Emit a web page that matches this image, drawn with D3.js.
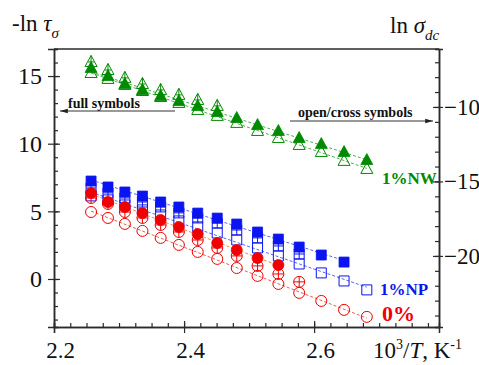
<!DOCTYPE html>
<html>
<head>
<meta charset="utf-8">
<script src="https://cdn.jsdelivr.net/npm/d3@7"></script>
<style>
  body { margin: 0; background: #fff; }
  svg, svg text { font-family: "Liberation Serif", "Times New Roman", "DejaVu Serif", serif; }
</style>
</head>
<body>
<div id="chart"></div>
<script>
// 10^3/T for T = 443 ... 373 K
var invT = [2.257, 2.283, 2.309, 2.336, 2.364, 2.392, 2.421, 2.451, 2.481, 2.513, 2.545, 2.577, 2.611, 2.646, 2.681];

// full symbols -> left axis (-ln tau)
var nwFull   = [15.59, 15.0, 14.41, 13.97, 13.52, 13.15, 12.78, 12.34, 11.9, 11.38, 10.94, 10.42, 9.97, 9.38, 8.79];
var npFull   = [7.24, 6.8, 6.43, 6.13, 5.69, 5.32, 4.87, 4.5, 4.06, 3.47, 2.95, 2.36, 1.77, 1.25];
var pureFull = [6.35, 5.69, 5.32, 4.87, 4.36, 3.84, 3.32, 2.66, 2.14, 1.55, 1.03];

// open / cross symbols -> right axis (ln sigma_dc)
var nwOpen    = [-7.72, -8.12, -8.52, -8.93, -9.33, -9.73, -10.2, -10.6, -11.07, -11.61, -12.08, -12.55, -13.02, -13.62, -14.16];
var nwCross   = [-6.98, -7.52, -8.05, -8.46, -8.86, -9.19, -9.53, -9.93];
var npOpen    = [-15.97, -16.24, -16.58, -16.91, -17.25, -17.65, -18.05, -18.46, -18.93, -19.46, -20.0, -20.54, -21.14, -21.68, -22.28];
var npCross   = [-15.44, -15.77, -16.11, -16.38, -16.71, -17.11, -17.45, -17.79, -18.26, -18.79, -19.33, -19.87];
var pureOpen  = [-17.05, -17.45, -17.85, -18.32, -18.79, -19.26, -19.73, -20.2, -20.81, -21.34, -21.88, -22.48, -23.02, -23.62, -24.09];
var pureCross = [-16.11, -16.51, -17.05, -17.45, -17.92, -18.39, -18.93, -19.46, -20.0, -20.67, -21.21, -21.74];

var leftTicks = [0, 5, 10, 15],
    rightTicks = [-20, -15, -10],
    xTicks = [2.2, 2.4, 2.6];

var W = 479, H = 365;
var box = {left: 54, top: 49, right: 439, bottom: 327};
var serif = "Liberation Serif, Times New Roman, serif";

var svg = d3.select("#chart").append("svg")
  .attr("width", W)
  .attr("height", H)
  .attr("font-family", serif);

var x = d3.scaleLinear().domain([2.2, 2.792]).range([box.left, box.right]);
var yL = d3.scaleLinear().domain([-3.55, 17.0]).range([box.bottom, box.top]);
var yR = d3.scaleLinear().domain([-24.77, -6.11]).range([box.bottom, box.top]);

function pts(vals){
  return vals.map(function(v, i){ return {x: invT[i], y: v}; });
}

// least squares line through a series
function fitLine(data, y, color){
  var n = data.length,
      mx = d3.mean(data, function(d){ return d.x; }),
      my = d3.mean(data, function(d){ return d.y; });
  var sxy = d3.sum(data, function(d){ return (d.x - mx) * (d.y - my); }),
      sxx = d3.sum(data, function(d){ return (d.x - mx) * (d.x - mx); });
  var b = sxy / sxx, a = my - b * mx;
  var x0 = data[0].x, x1 = data[n - 1].x;
  svg.append("line")
    .attr("x1", x(x0)).attr("y1", y(a + b * x0))
    .attr("x2", x(x1)).attr("y2", y(a + b * x1))
    .style("stroke", color)
    .style("stroke-width", 1)
    .style("stroke-dasharray", "3,2");
}

function markerPath(shape, cross){
  var p = d3.path();
  if(shape == "tri"){
    p.moveTo(0, -6.5); p.lineTo(6, 4.5); p.lineTo(-6, 4.5); p.closePath();
    if(cross){ p.moveTo(0, -6.5); p.lineTo(0, 4.5); p.moveTo(-3, 0); p.lineTo(3, 0); }
  } else if(shape == "sq"){
    p.rect(-5, -5, 10, 10);
    if(cross){ p.moveTo(0, -5); p.lineTo(0, 5); p.moveTo(-5, 0); p.lineTo(5, 0); }
  } else {
    p.moveTo(5.5, 0); p.arc(0, 0, 5.5, 0, 2 * Math.PI);
    if(cross){ p.moveTo(0, -5.5); p.lineTo(0, 5.5); p.moveTo(-5.5, 0); p.lineTo(5.5, 0); }
  }
  return p.toString();
}

function markers(data, y, shape, kind, color){
  svg.append("g").selectAll("path")
    .data(data)
    .enter().append("path")
    .attr("transform", function(d){ return "translate(" + x(d.x) + "," + y(d.y) + ")"; })
    .attr("d", markerPath(shape, kind == "cross"))
    .style("fill", kind == "full" ? color : "none")
    .style("stroke", color)
    .style("stroke-width", kind == "full" ? 0.8 : 1);
}

var series = [
  {full: nwFull,   open: nwOpen,   cross: nwCross,   shape: "tri", color: "#008a00", lineFull: "#4fae4f", lineOpen: "#4fae4f"},
  {full: npFull,   open: npOpen,   cross: npCross,   shape: "sq",  color: "#0a14f0", lineFull: "#5a64f0", lineOpen: "#5a64f0"},
  {full: pureFull, open: pureOpen, cross: pureCross, shape: "cir", color: "#f00000", lineFull: "#f08a50", lineOpen: "#ee5a5a"}
];

// dashed fit lines
series.forEach(function(s){
  fitLine(pts(s.open), yR, s.lineOpen);
  fitLine(pts(s.full), yL, s.lineFull);
});

// symbols: open, cross, then full on top
series.forEach(function(s){
  markers(pts(s.open), yR, s.shape, "open", s.color);
  markers(pts(s.cross), yR, s.shape, "cross", s.color);
});
series.forEach(function(s){
  markers(pts(s.full), yL, s.shape, "full", s.color);
});

// frame
var axisColor = "#2a2a2a";
svg.append("line")
  .attr("x1", box.left).attr("x2", box.right)
  .attr("y1", box.top).attr("y2", box.top)
  .style("stroke", axisColor).style("stroke-width", 1.5);

function styleAxis(g, size){
  g.attr("font-family", serif).attr("font-size", size || 24);
  g.selectAll(".domain").style("stroke", axisColor).style("stroke-width", 1.5);
  g.selectAll(".tick line").style("stroke", axisColor).style("stroke-width", 1.2);
  g.selectAll("text").style("fill", "#111");
}

// minor ticks (inside)
svg.append("g")
  .attr("transform", "translate(" + box.left + ",0)")
  .call(d3.axisLeft(yL).tickValues(d3.range(-3, 17.01, 1)).tickSize(-4).tickFormat(""))
  .call(styleAxis);
svg.append("g")
  .attr("transform", "translate(" + box.right + ",0)")
  .call(d3.axisRight(yR).tickValues(d3.range(-24, -6.5, 1)).tickSize(-4).tickFormat(""))
  .call(styleAxis);
svg.append("g")
  .attr("transform", "translate(0," + box.bottom + ")")
  .call(d3.axisBottom(x).tickValues(d3.range(0, 24).map(function(i){ return 2.2 + i * 0.025; })).tickSize(-4).tickFormat(""))
  .call(styleAxis);

// major ticks, crossing the axis line
svg.append("g")
  .attr("transform", "translate(" + box.left + ",0)")
  .call(d3.axisLeft(yL).tickValues(leftTicks).tickSize(6).tickPadding(6).tickFormat(d3.format("d")))
  .call(styleAxis, 24)
  .call(function(g){ g.selectAll(".tick line").attr("x2", 6).attr("x1", -6); });

svg.append("g")
  .attr("transform", "translate(" + box.right + ",0)")
  .call(d3.axisRight(yR).tickValues(rightTicks).tickSize(4).tickPadding(1).tickFormat(d3.format("d")))
  .call(styleAxis, 23)
  .call(function(g){ g.selectAll(".tick line").attr("x1", -6).attr("x2", 4); });

svg.append("g")
  .attr("transform", "translate(0," + box.bottom + ")")
  .call(d3.axisBottom(x).tickValues(xTicks).tickSize(6).tickPadding(9).tickFormat(d3.format(".1f")))
  .call(styleAxis, 23)
  .call(function(g){
    g.selectAll(".tick line").attr("y1", -6).attr("y2", 6);
    g.selectAll(".tick text").attr("dx", 6);
  });

// axis titles
var tl = svg.append("text").attr("x", 12).attr("y", 31).attr("font-size", 23).style("fill", "#111");
tl.append("tspan").text("-ln ");
tl.append("tspan").style("font-style", "italic").text("\u03c4");
tl.append("tspan").attr("dy", 7).attr("font-size", 15).style("font-style", "italic").text("\u03c3");

var tr = svg.append("text").attr("x", 390).attr("y", 33).attr("font-size", 23).style("fill", "#111");
tr.append("tspan").text("ln ");
tr.append("tspan").style("font-style", "italic").text("\u03c3");
tr.append("tspan").attr("dy", 7).attr("font-size", 15).style("font-style", "italic").text("dc");

var tx = svg.append("text").attr("x", 373).attr("y", 358).attr("font-size", 23).style("fill", "#111");
tx.append("tspan").text("10");
tx.append("tspan").attr("dy", -9).attr("font-size", 14).text("3");
tx.append("tspan").attr("dy", 9).text("/");
tx.append("tspan").style("font-style", "italic").text("T");
tx.append("tspan").text(", K");
tx.append("tspan").attr("dy", -9).attr("font-size", 14).text("-1");

// series labels
var labels = [
  {text: "1%NW", x: 382, y: 184, size: 17, color: "#008a00"},
  {text: "1%NP", x: 380, y: 295, size: 17, color: "#0a14f0"},
  {text: "0%",   x: 382, y: 321, size: 22, color: "#f00000"}
];
svg.selectAll(".series-label")
  .data(labels)
  .enter().append("text")
  .attr("class", "series-label")
  .attr("x", function(d){ return d.x; })
  .attr("y", function(d){ return d.y; })
  .attr("font-size", function(d){ return d.size; })
  .style("font-weight", "bold")
  .style("fill", function(d){ return d.color; })
  .text(function(d){ return d.text; });

// arrows telling which axis
svg.append("defs").append("marker")
  .attr("id", "arrow")
  .attr("viewBox", "0 0 10 10")
  .attr("refX", 10).attr("refY", 5)
  .attr("markerWidth", 6).attr("markerHeight", 6)
  .attr("orient", "auto-start-reverse")
  .append("path")
  .attr("d", "M0,2L10,5L0,8Z")
  .style("fill", "#222");

svg.append("line")
  .attr("x1", 175).attr("x2", 60).attr("y1", 111).attr("y2", 111)
  .style("stroke", "#777").style("stroke-width", 1.3)
  .attr("marker-end", "url(#arrow)");
svg.append("text")
  .attr("x", 68).attr("y", 108)
  .attr("font-size", 14).style("font-weight", "bold").style("fill", "#111")
  .text("full symbols");

svg.append("line")
  .attr("x1", 290).attr("x2", 433).attr("y1", 121).attr("y2", 121)
  .style("stroke", "#777").style("stroke-width", 1.3)
  .attr("marker-end", "url(#arrow)");
svg.append("text")
  .attr("x", 298).attr("y", 117)
  .attr("font-size", 14).style("font-weight", "bold").style("fill", "#111")
  .text("open/cross symbols");
</script>
</body>
</html>
